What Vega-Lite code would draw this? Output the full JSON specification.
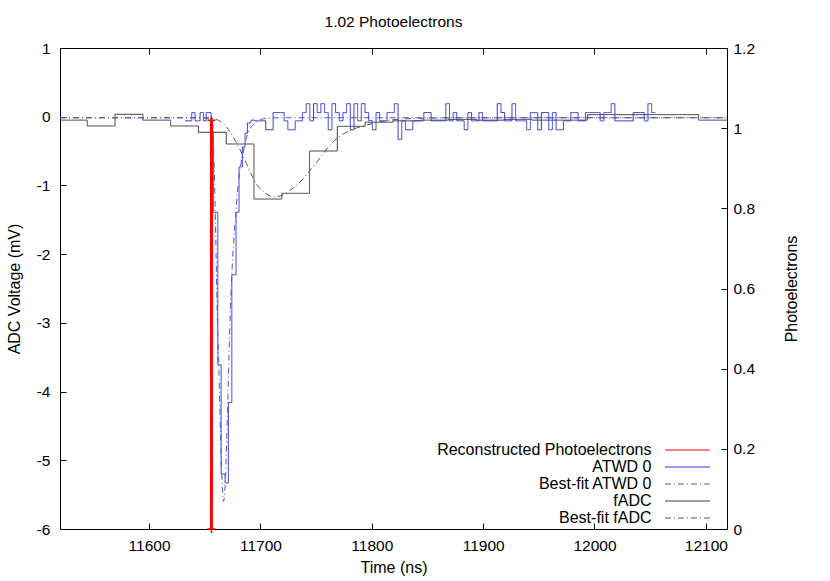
{
  "$schema": "https://vega.github.io/schema/vega-lite/v6.json",
  "width": 667,
  "height": 481,
  "autosize": {"type": "none"},
  "padding": {"left": 60, "top": 48, "right": 103, "bottom": 52},
  "title": {"text": "1.02 Photoelectrons", "fontSize": 15.5, "fontWeight": "normal", "font": "Liberation Sans", "offset": 11, "color": "#000"},
  "datasets": {
    "fadc": [
      {"t": 11519.6, "v": -0.05}, {"t": 11544.5, "v": -0.135}, {"t": 11569.45, "v": 0.035}, {"t": 11594.4, "v": -0.05},
      {"t": 11619.35, "v": -0.135}, {"t": 11644.3, "v": -0.227}, {"t": 11669.25, "v": -0.397}, {"t": 11694.2, "v": -1.198},
      {"t": 11719.15, "v": -1.115}, {"t": 11744.1, "v": -0.499}, {"t": 11769.05, "v": -0.14}, {"t": 11794.0, "v": -0.08},
      {"t": 11818.95, "v": -0.06}, {"t": 11843.9, "v": -0.05}, {"t": 11868.85, "v": -0.04}, {"t": 11893.8, "v": -0.05},
      {"t": 11918.75, "v": -0.04}, {"t": 11943.7, "v": -0.05}, {"t": 11968.65, "v": -0.05}, {"t": 11993.6, "v": 0.03},
      {"t": 12018.55, "v": 0.03}, {"t": 12043.5, "v": 0.03}, {"t": 12068.45, "v": 0.03}, {"t": 12093.4, "v": -0.05},
      {"t": 12119, "v": -0.05}
    ],
    "fadcfit": [
      {"t": 11520, "v": -0.015}, {"t": 11640, "v": -0.015}, {"t": 11650, "v": -0.017}, {"t": 11657.7, "v": -0.03},
      {"t": 11666.7, "v": -0.1}, {"t": 11672.7, "v": -0.22}, {"t": 11678.8, "v": -0.39}, {"t": 11684.7, "v": -0.58},
      {"t": 11690.7, "v": -0.8}, {"t": 11696.7, "v": -0.99}, {"t": 11702.7, "v": -1.09}, {"t": 11711.6, "v": -1.165},
      {"t": 11717.7, "v": -1.155}, {"t": 11726.7, "v": -1.07}, {"t": 11735.6, "v": -0.95}, {"t": 11744.6, "v": -0.78},
      {"t": 11753.6, "v": -0.6}, {"t": 11762.6, "v": -0.41}, {"t": 11771.6, "v": -0.28}, {"t": 11780.6, "v": -0.2},
      {"t": 11795.6, "v": -0.12}, {"t": 11810.5, "v": -0.065}, {"t": 11831.5, "v": -0.03}, {"t": 11870, "v": -0.017},
      {"t": 11950, "v": -0.015}, {"t": 12119, "v": -0.015}
    ],
    "atwdfit": [
      {"t": 11520, "v": -0.015}, {"t": 11652, "v": -0.015}, {"t": 11655, "v": -0.02}, {"t": 11656.8, "v": -0.05},
      {"t": 11658.6, "v": -0.8}, {"t": 11659.9, "v": -1.75}, {"t": 11661.1, "v": -2.8}, {"t": 11662.4, "v": -3.5},
      {"t": 11663.8, "v": -4.4}, {"t": 11665.1, "v": -5.1}, {"t": 11666.7, "v": -5.6}, {"t": 11668.3, "v": -5.38},
      {"t": 11669.8, "v": -4.65}, {"t": 11671.2, "v": -3.85}, {"t": 11672.7, "v": -2.95}, {"t": 11674.3, "v": -2.3},
      {"t": 11677.2, "v": -1.55}, {"t": 11680.2, "v": -0.96}, {"t": 11684.7, "v": -0.5}, {"t": 11689.2, "v": -0.22},
      {"t": 11695.2, "v": -0.096}, {"t": 11702.7, "v": -0.03}, {"t": 11718, "v": -0.015}, {"t": 12119, "v": -0.015}
    ],
    "atwd": [
      {"t": 11632.3, "v": -0.06}, {"t": 11638.3, "v": 0.06}, {"t": 11641.3, "v": -0.06}, {"t": 11645.8, "v": 0.06},
      {"t": 11648.8, "v": -0.06}, {"t": 11651.2, "v": 0.06}, {"t": 11655.7, "v": -0.22}, {"t": 11657.7, "v": -1.39},
      {"t": 11661.7, "v": -3.61}, {"t": 11664.7, "v": -5.2}, {"t": 11668.3, "v": -5.33}, {"t": 11671.2, "v": -4.16},
      {"t": 11674.3, "v": -2.3}, {"t": 11678.1, "v": -1.39}, {"t": 11680.8, "v": -0.73}, {"t": 11683.8, "v": -0.44},
      {"t": 11686.2, "v": -0.24},
      {"t": 11688.3, "v": -0.09}, {"t": 11691.6, "v": -0.05}, {"t": 11694.9, "v": -0.06}, {"t": 11698.2, "v": -0.06},
      {"t": 11701.5, "v": -0.06}, {"t": 11704.8, "v": -0.19}, {"t": 11708.1, "v": -0.19}, {"t": 11711.4, "v": 0.06},
      {"t": 11714.7, "v": 0.06}, {"t": 11718.0, "v": 0.06}, {"t": 11721.3, "v": -0.06}, {"t": 11724.6, "v": -0.19},
      {"t": 11727.9, "v": -0.19}, {"t": 11731.2, "v": -0.06}, {"t": 11734.5, "v": -0.06}, {"t": 11737.8, "v": 0.06},
      {"t": 11741.1, "v": 0.19}, {"t": 11744.4, "v": -0.06}, {"t": 11747.7, "v": 0.19}, {"t": 11751.0, "v": 0.06},
      {"t": 11754.3, "v": 0.19}, {"t": 11757.6, "v": 0.06}, {"t": 11760.9, "v": -0.19}, {"t": 11764.2, "v": 0.19},
      {"t": 11767.5, "v": 0.06}, {"t": 11770.8, "v": -0.06}, {"t": 11774.1, "v": 0.06}, {"t": 11777.4, "v": 0.19},
      {"t": 11780.7, "v": -0.19}, {"t": 11784.0, "v": 0.19}, {"t": 11787.3, "v": -0.06}, {"t": 11790.6, "v": 0.19},
      {"t": 11793.9, "v": 0.06}, {"t": 11797.2, "v": -0.06}, {"t": 11800.5, "v": -0.19}, {"t": 11803.8, "v": 0.06},
      {"t": 11807.1, "v": -0.06}, {"t": 11810.4, "v": -0.06}, {"t": 11813.7, "v": 0.06}, {"t": 11817.0, "v": 0.06},
      {"t": 11820.3, "v": 0.19}, {"t": 11823.6, "v": -0.33}, {"t": 11826.9, "v": -0.06}, {"t": 11830.2, "v": -0.19},
      {"t": 11833.5, "v": -0.19}, {"t": 11836.8, "v": -0.06}, {"t": 11840.1, "v": -0.06}, {"t": 11843.4, "v": -0.06},
      {"t": 11846.7, "v": 0.06}, {"t": 11850.0, "v": 0.06}, {"t": 11853.3, "v": -0.06}, {"t": 11856.6, "v": -0.06},
      {"t": 11859.9, "v": -0.06}, {"t": 11863.2, "v": -0.06}, {"t": 11866.5, "v": 0.19}, {"t": 11869.8, "v": -0.06},
      {"t": 11873.1, "v": 0.06}, {"t": 11876.4, "v": -0.06}, {"t": 11879.7, "v": -0.06}, {"t": 11883.0, "v": -0.19},
      {"t": 11886.3, "v": 0.06}, {"t": 11889.6, "v": -0.06}, {"t": 11892.9, "v": -0.06}, {"t": 11896.2, "v": 0.06},
      {"t": 11899.5, "v": -0.06}, {"t": 11902.8, "v": -0.06}, {"t": 11906.1, "v": -0.06}, {"t": 11909.4, "v": -0.06},
      {"t": 11912.7, "v": 0.19}, {"t": 11916.0, "v": 0.06}, {"t": 11919.3, "v": -0.06}, {"t": 11922.6, "v": -0.06},
      {"t": 11925.9, "v": 0.19}, {"t": 11929.2, "v": -0.06}, {"t": 11932.5, "v": -0.06}, {"t": 11935.8, "v": -0.06},
      {"t": 11939.1, "v": -0.19}, {"t": 11942.4, "v": 0.06}, {"t": 11945.7, "v": 0.06}, {"t": 11949.0, "v": -0.19},
      {"t": 11952.3, "v": 0.06}, {"t": 11955.6, "v": 0.06}, {"t": 11958.9, "v": -0.19}, {"t": 11962.2, "v": 0.06},
      {"t": 11965.5, "v": -0.19}, {"t": 11968.8, "v": -0.19}, {"t": 11972.1, "v": -0.06}, {"t": 11975.4, "v": -0.06},
      {"t": 11978.7, "v": 0.06}, {"t": 11982.0, "v": 0.06}, {"t": 11985.3, "v": -0.06}, {"t": 11988.6, "v": -0.06},
      {"t": 11991.9, "v": 0.06}, {"t": 11995.2, "v": 0.06}, {"t": 11998.5, "v": 0.06}, {"t": 12001.8, "v": 0.06},
      {"t": 12005.1, "v": -0.06}, {"t": 12008.4, "v": 0.06}, {"t": 12011.7, "v": 0.06}, {"t": 12015.0, "v": 0.19},
      {"t": 12018.3, "v": -0.06}, {"t": 12021.6, "v": -0.06}, {"t": 12024.9, "v": -0.06}, {"t": 12028.2, "v": -0.06},
      {"t": 12031.5, "v": -0.06}, {"t": 12034.8, "v": 0.06}, {"t": 12038.1, "v": 0.06}, {"t": 12041.4, "v": 0.06},
      {"t": 12044.7, "v": -0.06}, {"t": 12048.0, "v": 0.19}, {"t": 12051.3, "v": 0.06}, {"t": 12054.6, "v": 0.06}
    ],
    "pe": [
      {"t": 11656, "pe": 0},
      {"t": 11656, "pe": 1.02}
    ]
  },
  "layer": [
    {
      "encoding": {
        "x": {"field": "t", "type": "quantitative", "scale": {"domain": [11520, 12119], "nice": false, "zero": false},
          "axis": {"orient": "bottom", "title": "Time (ns)", "values": [11600, 11700, 11800, 11900, 12000, 12100], "format": "d", "labelPadding": 15, "titlePadding": 6, "labelFlush": false}},
        "y": {"field": "v", "type": "quantitative", "scale": {"domain": [-6, 1], "nice": false, "zero": false},
          "axis": {"orient": "left", "title": "ADC Voltage (mV)", "values": [-6, -5, -4, -3, -2, -1, 0, 1], "labelExpr": "datum.value < 0 ? '-' + abs(datum.value) : '' + datum.value", "labelPadding": 16, "titlePadding": 14}}
      },
      "layer": [
        {
          "data": {"name": "fadc"},
          "mark": {"type": "line", "interpolate": "step-after", "strokeWidth": 1, "clip": true},
          "encoding": {
            "color": {"datum": "fADC", "type": "nominal",
              "scale": {"domain": ["Reconstructed Photoelectrons", "ATWD 0", "Best-fit ATWD 0", "fADC", "Best-fit fADC"], "range": ["#ff0000", "#3434d4", "#5050d8", "#3a3a3a", "#555555"]},
              "legend": {"title": null, "orient": "none", "legendX": 619.5, "legendY": 394, "symbolType": "M-5,0H5", "symbolSize": 81, "labelAlign": "right", "labelOffset": -44, "labelLimit": 500, "labelFontSize": 16, "labelFont": "Liberation Sans", "labelColor": "#000", "rowPadding": 1, "symbolStrokeWidth": 1, "padding": 0}},
            "strokeDash": {"datum": "fADC", "type": "nominal",
              "scale": {"domain": ["Reconstructed Photoelectrons", "ATWD 0", "Best-fit ATWD 0", "fADC", "Best-fit fADC"], "range": [[1, 0], [1, 0], [6, 3, 1, 3], [1, 0], [6, 3, 1, 3]]},
              "legend": {"title": null, "orient": "none", "legendX": 619.5, "legendY": 394, "symbolType": "M-5,0H5", "symbolSize": 81, "labelAlign": "right", "labelOffset": -44, "labelLimit": 500, "labelFontSize": 16, "labelFont": "Liberation Sans", "labelColor": "#000", "rowPadding": 1, "symbolStrokeWidth": 1, "padding": 0}}
          }
        },
        {
          "data": {"name": "fadcfit"},
          "mark": {"type": "line", "interpolate": "monotone", "strokeWidth": 1, "clip": true},
          "encoding": {
            "color": {"datum": "Best-fit fADC", "type": "nominal"},
            "strokeDash": {"datum": "Best-fit fADC", "type": "nominal"}
          }
        },
        {
          "data": {"name": "atwd"},
          "mark": {"type": "line", "interpolate": "step-after", "strokeWidth": 1, "clip": true},
          "encoding": {
            "color": {"datum": "ATWD 0", "type": "nominal"},
            "strokeDash": {"datum": "ATWD 0", "type": "nominal"}
          }
        },
        {
          "data": {"name": "atwdfit"},
          "mark": {"type": "line", "interpolate": "monotone", "strokeWidth": 1, "clip": true},
          "encoding": {
            "color": {"datum": "Best-fit ATWD 0", "type": "nominal"},
            "strokeDash": {"datum": "Best-fit ATWD 0", "type": "nominal"}
          }
        }
      ]
    },
    {
      "data": {"name": "pe"},
      "encoding": {
        "x": {"field": "t", "type": "quantitative", "scale": {"domain": [11520, 12119], "nice": false, "zero": false},
          "axis": {"orient": "top", "title": null, "labels": false, "values": [11600, 11700, 11800, 11900, 12000, 12100]}},
        "y": {"field": "pe", "type": "quantitative", "scale": {"domain": [0, 1.2], "nice": false, "zero": false},
          "axis": {"orient": "right", "title": "Photoelectrons", "titleAngle": 270, "values": [0, 0.2, 0.4, 0.6, 0.8, 1, 1.2], "format": "~g", "labelPadding": 12, "titlePadding": 45}}
      },
      "layer": [
        {
          "mark": {"type": "line", "strokeWidth": 3, "clip": false},
          "encoding": {
            "color": {"datum": "Reconstructed Photoelectrons", "type": "nominal"},
            "strokeDash": {"datum": "Reconstructed Photoelectrons", "type": "nominal"}
          }
        },
        {
          "mark": {"type": "point", "shape": "M-1,0H1M0,-1V1", "size": 64, "filled": false, "color": "#ff0000", "strokeWidth": 1.5, "opacity": 1}
        }
      ]
    }
  ],
  "resolve": {"scale": {"y": "independent"}, "axis": {"x": "independent"}},
  "config": {
    "view": {"stroke": "#000", "strokeWidth": 1},
    "font": "Liberation Sans",
    "axis": {"domain": false, "grid": false, "tickColor": "#000", "tickSize": -6, "tickWidth": 1, "labelFontSize": 15.5, "labelColor": "#000", "labelFont": "Liberation Sans", "titleFontSize": 16, "titleFontWeight": "normal", "titleColor": "#000", "titleFont": "Liberation Sans"}
  }
}
